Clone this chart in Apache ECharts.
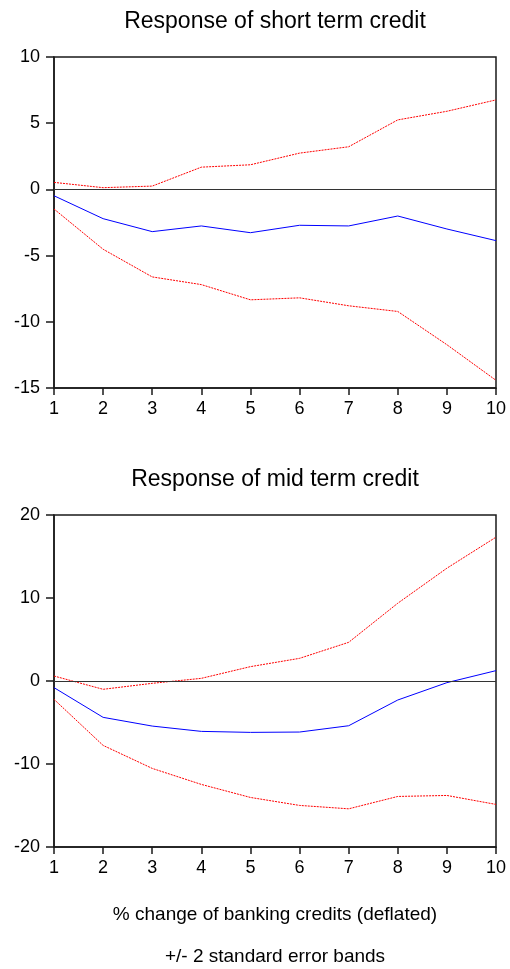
<!DOCTYPE html>
<html>
<head>
<meta charset="utf-8">
<script src="https://cdn.jsdelivr.net/npm/echarts@6/dist/echarts.min.js"></script>
<style>
  html, body { margin: 0; padding: 0; background: #fff; }
  #chart { width: 510px; height: 969px; }
</style>
</head>
<body>
<div id="chart"></div>
<script>
// periods
var periods = ['1', '2', '3', '4', '5', '6', '7', '8', '9', '10'];

// short term credit response and bands
var shortResp = [-0.48, -2.21, -3.19, -2.76, -3.27, -2.71, -2.76, -2.01, -2.99, -3.87];
var shortUpper = [0.53, 0.13, 0.25, 1.68, 1.86, 2.74, 3.22, 5.25, 5.90, 6.76];
var shortLower = [-1.48, -4.52, -6.61, -7.19, -8.34, -8.19, -8.79, -9.22, -11.73, -14.42];

// mid term credit response and bands
var midResp = [-0.80, -4.38, -5.43, -6.07, -6.19, -6.15, -5.39, -2.29, -0.20, 1.25];
var midUpper = [0.60, -1.00, -0.28, 0.32, 1.73, 2.73, 4.66, 9.37, 13.59, 17.33];
var midLower = [-2.21, -7.76, -10.53, -12.46, -14.03, -14.99, -15.40, -13.91, -13.79, -14.87];

var font = 'Liberation Sans, Arial, sans-serif';
var ink = '#1a1a1a';

var chart = echarts.init(document.getElementById('chart'));

function xAxisOf(idx) {
  return {
    gridIndex: idx,
    type: 'category',
    data: periods,
    boundaryGap: false,
    axisLine: { onZero: false, lineStyle: { color: ink, width: 1.5 } },
    axisTick: { show: true, length: 7, lineStyle: { color: ink, width: 1.5 } },
    axisLabel: { color: '#000', fontSize: 18, fontFamily: font, margin: 12 },
    splitLine: { show: false }
  };
}

function yAxisOf(idx, min, max, step) {
  return {
    gridIndex: idx,
    type: 'value',
    min: min,
    max: max,
    interval: step,
    axisLine: { show: true, onZero: false, lineStyle: { color: ink, width: 1.5 } },
    axisTick: { show: true, length: 8, lineStyle: { color: ink, width: 1.5 } },
    axisLabel: { color: '#000', fontSize: 18, fontFamily: font, margin: 14 },
    splitLine: { show: false }
  };
}

function band(idx, data) {
  return {
    type: 'line',
    xAxisIndex: idx,
    yAxisIndex: idx,
    data: data,
    symbol: 'none',
    silent: true,
    lineStyle: { color: '#ff0000', width: 1, type: [2, 1] }
  };
}

function resp(idx, data) {
  return {
    type: 'line',
    xAxisIndex: idx,
    yAxisIndex: idx,
    data: data,
    symbol: 'none',
    silent: true,
    lineStyle: { color: '#0000ff', width: 1 },
    markLine: {
      silent: true,
      symbol: 'none',
      label: { show: false },
      lineStyle: { color: '#333', width: 1, type: 'solid' },
      data: [{ yAxis: 0 }]
    }
  };
}

function label(text, y, size) {
  return {
    type: 'text',
    x: 275,
    y: y,
    style: {
      text: text,
      fill: '#000',
      font: size + 'px ' + font,
      textAlign: 'center',
      textVerticalAlign: 'middle'
    }
  };
}

var option = {
  animation: false,
  backgroundColor: '#fff',
  graphic: [
    label('Response of short term credit', 22, 23),
    label('Response of mid term credit', 480, 23),
    label('% change of banking credits (deflated)', 915, 19),
    label('+/- 2 standard error bands', 957, 19)
  ],
  grid: [
    { left: 54, right: 14, top: 57, height: 331, show: true, borderColor: ink, borderWidth: 1.5 },
    { left: 54, right: 14, top: 515, height: 332, show: true, borderColor: ink, borderWidth: 1.5 }
  ],
  xAxis: [xAxisOf(0), xAxisOf(1)],
  yAxis: [yAxisOf(0, -15, 10, 5), yAxisOf(1, -20, 20, 10)],
  series: [
    resp(0, shortResp),
    band(0, shortUpper),
    band(0, shortLower),
    resp(1, midResp),
    band(1, midUpper),
    band(1, midLower)
  ]
};

chart.setOption(option);
</script>
</body>
</html>
